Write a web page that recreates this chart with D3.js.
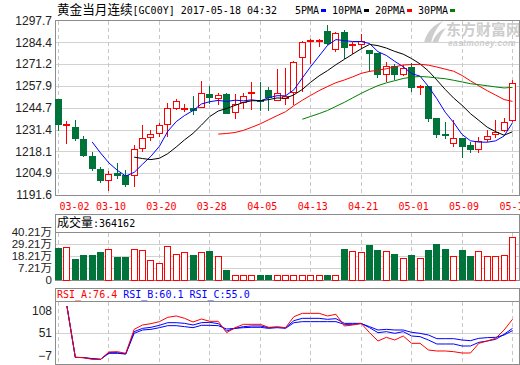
<!DOCTYPE html>
<html><head><meta charset="utf-8">
<script src="https://cdn.jsdelivr.net/npm/d3@7"></script>
<style>body{margin:0;background:#fff}svg{display:block}</style>
</head><body><svg id="c" width="520" height="365"></svg>
<script>
const dates = ["03-02","03-03","03-06","03-07","03-08","03-09","03-10","03-13","03-14","03-15","03-16","03-17","03-20","03-21","03-22","03-23","03-24","03-27","03-28","03-29","03-30","03-31","04-03","04-04","04-05","04-06","04-07","04-10","04-11","04-12","04-13","04-14","04-17","04-18","04-19","04-20","04-21","04-24","04-25","04-26","04-27","04-28","05-01","05-02","05-03","05-04","05-05","05-08","05-09","05-10","05-11","05-12","05-15","05-16","05-17"];
const open  = [1249.8,1234.3,1233.2,1225.5,1215.2,1207.4,1200.5,1204.9,1203.5,1203.5,1219.9,1226.6,1229.0,1234.5,1244.8,1244.3,1244.8,1245.4,1253.2,1250.6,1252.8,1242.1,1248.0,1253.5,1249.6,1255.7,1249.5,1250.5,1254.5,1275.3,1285.3,1285.3,1291.6,1280.5,1291.0,1282.8,1283.6,1279.5,1277.9,1265.4,1270.0,1265.4,1269.2,1257.2,1257.7,1238.5,1228.5,1223.5,1226.3,1221.9,1219.3,1225.4,1228.4,1231.0,1237.5];
const high  = [1250.2,1236.6,1237.1,1227.2,1217.9,1208.6,1206.3,1211.0,1207.1,1221.7,1234.0,1231.0,1235.4,1247.4,1250.0,1246.8,1251.6,1260.7,1258.1,1253.9,1253.4,1253.3,1253.5,1260.3,1260.1,1257.3,1268.5,1269.0,1272.9,1285.0,1286.6,1286.6,1294.7,1290.5,1292.1,1284.5,1289.6,1279.9,1278.2,1272.4,1271.4,1270.4,1271.8,1258.3,1258.0,1238.7,1235.8,1237.1,1226.5,1223.9,1226.9,1231.0,1237.1,1238.5,1261.3];
const low   = [1230.6,1222.7,1224.5,1214.5,1206.3,1198.9,1194.2,1201.1,1196.6,1196.6,1217.9,1224.2,1226.9,1226.6,1243.1,1242.1,1240.1,1244.8,1246.8,1246.6,1241.1,1238.1,1244.0,1243.1,1242.7,1242.7,1249.3,1246.2,1246.2,1254.2,1271.4,1281.5,1282.5,1278.5,1274.5,1277.5,1280.5,1266.4,1263.0,1260.3,1261.3,1263.9,1254.2,1252.2,1236.0,1226.0,1225.8,1220.9,1214.2,1217.2,1216.9,1223.9,1226.0,1230.0,1236.0];
const close = [1234.5,1234.7,1226.0,1216.0,1208.2,1200.9,1204.3,1203.7,1198.5,1219.3,1226.0,1228.4,1233.9,1244.2,1248.6,1244.7,1243.3,1253.9,1251.2,1252.4,1241.5,1247.2,1252.0,1254.2,1249.0,1251.2,1253.5,1251.5,1272.7,1284.8,1285.8,1285.8,1283.9,1290.2,1281.5,1283.3,1285.4,1278.1,1265.4,1270.0,1265.4,1269.0,1257.3,1257.6,1238.5,1228.4,1227.8,1226.0,1221.3,1219.3,1224.5,1227.4,1230.2,1236.0,1259.7];
// volume in 万 (10,000 lots)
const volume = [27.2,27.8,18.0,21.1,21.1,23.6,26.1,19.1,19.7,26.1,25.0,16.9,14.3,28.7,21.9,23.6,21.1,23.6,24.5,20.2,8.4,4.0,4.0,4.0,4.0,4.0,4.0,4.0,4.0,4.0,4.0,4.0,4.0,4.0,26.1,24.2,23.3,29.5,25.3,24.2,21.9,18.5,21.1,18.5,25.3,30.4,26.1,20.2,25.3,20.2,24.2,20.2,20.2,21.1,36.4162];
const rsiA = [null,119.9,-10.4,-11.2,-15.5,-15.5,3.2,4.0,-0.2,60.7,71.7,75.1,80.2,91.2,94.6,88.6,79.3,86.9,81.0,81.0,52.2,64.9,73.4,73.4,73.4,65.8,66.6,64.9,92.9,101.3,101.3,101.3,94.6,98.8,69.2,71.7,75.9,52.2,31.1,40.4,33.6,43.8,25.2,25.2,8.2,5.7,5.7,4.0,0.6,0.6,25.2,31.1,37.9,59.0,86.1];
const rsiB = [null,119.9,-10.4,-11.2,-13.8,-15.5,1.5,1.5,-1.9,54.8,63.2,65.8,70.9,77.6,77.6,75.9,71.7,77.6,78.5,75.1,56.5,63.2,67.5,69.2,69.2,64.9,66.6,64.9,82.7,88.6,88.6,88.6,86.1,87.8,75.9,75.9,75.9,64.9,52.2,54.8,50.5,54.8,43.8,42.1,33.6,23.5,23.5,23.5,18.4,18.4,27.7,31.1,35.3,48.0,63.2];
const rsiC = [null,119.9,-10.4,-11.2,-13.8,-15.5,-0.2,-0.2,-1.9,50.5,59.0,60.7,64.9,70.0,70.0,67.5,64.9,70.9,70.9,70.0,61.5,63.2,64.9,65.8,65.8,63.2,64.9,63.2,77.6,80.2,80.2,80.2,80.2,80.2,73.4,73.4,75.1,67.5,59.0,60.7,59.0,59.0,53.1,50.5,46.3,37.0,37.0,37.0,33.6,31.9,37.9,39.6,40.4,46.3,57.3];
const rsiLast = ["76.4","60.1","55.0"];
const priceTicks = [1191.6,1204.9,1218.1,1231.4,1244.7,1257.9,1271.2,1284.4,1297.7];
const volMax = 40.21;
const volTickLabels = ["0","7.21万","18.21万","29.21万","40.21万"];
const rsiTicks = [-7,51,108];
const maPeriods = [5,10,20,30];
const maColors = ["#0000ff","#000000","#ff0000","#008000"];
const titleCN = "黄金当月连续", titleEN = "[GC00Y] 2017-05-18 04:32";

const RED = "#ff0000", GREEN = "#00733a", GRID = "#d2d2d2", BORDER = "#8c8c8c";
const CJK = "'Noto Sans CJK SC', sans-serif", MONO = "'DejaVu Sans Mono', monospace", SANS = "'Liberation Sans', 'Noto Sans CJK SC', sans-serif";
const L = 55.5, R = 519.5;
const svg = d3.select("#c");

const x = d3.scalePoint().domain(dates).range([58, 512]);
const y = d3.scaleLinear().domain([priceTicks[0], priceTicks[priceTicks.length-1]]).range([195, 20.5]);
const yv = d3.scaleLinear().domain([0, volMax]).range([280, 232.3]);
const yr = d3.scaleLinear().domain([-7, 108]).range([356, 310.7]);
const px = v => Math.round(v) + 0.5;
const tickDates = dates.filter((d, i) => i % 6 === 0);
// volume grid: evenly spaced quarters of the axis, labelled as in the source chart
const volTickVals = volTickLabels.map((s, i) => volMax * i / (volTickLabels.length - 1));

// ---- watermark
const wm = svg.append("g").attr("fill", "#cdcdcd");
wm.append("path").attr("d", "M424,43 C426,33 433,25 443,21 C437,27 433,34 431,43 Z M432,43 C435,35 440,30 446,28 C442,33 439,38 438,43 Z");
wm.append("text").attr("x", 446).attr("y", 35).attr("font-family", CJK).attr("font-weight", "bold").attr("font-size", 15).text("东方财富网");
wm.append("text").attr("x", 448).attr("y", 45.5).attr("font-family", SANS).attr("font-style", "italic").attr("font-weight", "bold").attr("font-size", 8.5).attr("letter-spacing", 0.3).text("eastmoney.com");

// ---- gridlines
const grid = svg.append("g").attr("stroke", GRID).attr("fill", "none").attr("shape-rendering", "crispEdges");
priceTicks.slice(1, -1).forEach(t => grid.append("line").attr("x1", L).attr("x2", R).attr("y1", px(y(t))).attr("y2", px(y(t))));
volTickVals.slice(1, -1).forEach(t => grid.append("line").attr("x1", L).attr("x2", R).attr("y1", px(yv(t))).attr("y2", px(yv(t))));
grid.append("line").attr("x1", L).attr("x2", R).attr("y1", px(yr(51))).attr("y2", px(yr(51)));
tickDates.forEach(d => {
  const xx = px(x(d));
  [[20.5, 195], [232.5, 280], [301.5, 364]].forEach(([a, b]) =>
    grid.append("line").attr("x1", xx).attr("x2", xx).attr("y1", a).attr("y2", b).attr("stroke-dasharray", "4,3").attr("stroke", "#c8c8c8"));
});

// ---- borders
const bd = svg.append("g").attr("stroke", BORDER).attr("fill", "none").attr("shape-rendering", "crispEdges");
bd.append("rect").attr("x", L).attr("y", 20.5).attr("width", R - L).attr("height", 174.5);
bd.append("rect").attr("x", L).attr("y", 214.5).attr("width", R - L).attr("height", 66);
bd.append("line").attr("x1", L).attr("x2", R).attr("y1", 232.5).attr("y2", 232.5);
bd.append("rect").attr("x", L).attr("y", 288.5).attr("width", R - L).attr("height", 76);
bd.append("line").attr("x1", L).attr("x2", R).attr("y1", 301.5).attr("y2", 301.5);

// ---- candles
const cg = svg.append("g").attr("shape-rendering", "crispEdges");
dates.forEach((d, i) => {
  const up = close[i] >= open[i];
  const col = up ? RED : GREEN;
  const xc = Math.round(x(d));
  cg.append("line").attr("x1", xc + 0.5).attr("x2", xc + 0.5).attr("y1", y(high[i])).attr("y2", y(low[i])).attr("stroke", col);
  const top = Math.round(y(Math.max(open[i], close[i])));
  const bot = Math.round(y(Math.min(open[i], close[i])));
  const h = Math.max(1, bot - top);
  if (up) {
    cg.append("rect").attr("x", xc - 2.5).attr("y", top + 0.5).attr("width", 6).attr("height", h).attr("fill", "#fff").attr("stroke", col);
  } else {
    cg.append("rect").attr("x", xc - 3).attr("y", top).attr("width", 7).attr("height", h + 1).attr("fill", col);
  }
});

// ---- moving averages
maPeriods.forEach((p, k) => {
  const ma = close.map((c, i) => i < p - 1 ? null : d3.mean(close.slice(i - p + 1, i + 1)));
  svg.append("path").datum(ma).attr("fill", "none").attr("stroke", maColors[k]).attr("stroke-width", 1)
    .attr("d", d3.line().defined(v => v != null).x((v, i) => x(dates[i]) + 0.5).y(v => y(v)));
});

// ---- volume bars
const vg = svg.append("g").attr("shape-rendering", "crispEdges");
dates.forEach((d, i) => {
  const up = close[i] >= open[i];
  const xc = Math.round(x(d));
  const top = Math.round(yv(volume[i]));
  if (up) vg.append("rect").attr("x", xc - 2.5).attr("y", top + 0.5).attr("width", 6).attr("height", 280 - top - 0.5).attr("fill", "#fff").attr("stroke", RED);
  else vg.append("rect").attr("x", xc - 3).attr("y", top).attr("width", 7).attr("height", 280 - top).attr("fill", GREEN);
});

// ---- RSI
svg.append("clipPath").attr("id", "rc").append("rect").attr("x", 56).attr("y", 302).attr("width", 463).attr("height", 62);
[[rsiC, "#0000ff"], [rsiB, "#0000ff"], [rsiA, RED]].forEach(([arr, col]) => {
  svg.append("path").datum(arr).attr("clip-path", "url(#rc)").attr("fill", "none").attr("stroke", col).attr("stroke-width", 1)
    .attr("d", d3.line().defined(v => v != null).x((v, i) => x(dates[i]) + 0.5).y(v => yr(v)));
});

// ---- axes
function styleAxis(size) {
  return g => {
    g.select(".domain").remove();
    g.selectAll("line").remove();
    g.selectAll("text").attr("font-family", SANS).attr("font-size", size).attr("fill", "#222");
  };
}
svg.append("g").attr("transform", "translate(55,0)")
  .call(d3.axisLeft(y).tickValues(priceTicks).tickSize(0).tickPadding(3).tickFormat(d3.format(".1f")))
  .call(styleAxis(12));
svg.append("g").attr("transform", "translate(55,0)")
  .call(d3.axisLeft(yv).tickValues(volTickVals).tickSize(0).tickPadding(3).tickFormat((d, i) => volTickLabels[i]))
  .call(styleAxis(11.5));
svg.append("g").attr("transform", "translate(55,0)")
  .call(d3.axisLeft(yr).tickValues(rsiTicks).tickSize(0).tickPadding(3))
  .call(styleAxis(12));
const xa = svg.append("g").attr("transform", "translate(0,195)")
  .call(d3.axisBottom(x).tickValues(tickDates).tickSize(0));
xa.select(".domain").remove();
xa.selectAll("text").attr("font-family", MONO).attr("font-size", 10).attr("fill", RED).attr("y", 14.5).attr("dy", 0).attr("x", 2);
xa.selectAll("text").each(function(d) {
  const w = this.getComputedTextLength();
  if (x(d) + 2 - w / 2 < 59) d3.select(this).attr("x", 59 + w / 2 - x(d));
});

// ---- titles
const t = svg.append("text").attr("x", 57).attr("y", 13.5).attr("fill", "#000");
t.append("tspan").attr("font-family", CJK).attr("font-size", 12.6).text(titleCN);
t.append("tspan").attr("font-family", MONO).attr("font-size", 10).text(titleEN);
const legX = [295, 332, 375, 418], sqX = [321, 364, 407, 450];
maPeriods.forEach((p, k) => {
  svg.append("text").attr("x", legX[k]).attr("y", 13.5).attr("font-family", MONO).attr("font-size", 10).attr("fill", "#000").text(p + "PMA");
  svg.append("rect").attr("x", sqX[k]).attr("y", 9).attr("width", 5).attr("height", 3).attr("fill", maColors[k]);
});
const vt = svg.append("text").attr("x", 57).attr("y", 227);
vt.append("tspan").attr("font-family", CJK).attr("font-size", 12).text("成交量");
vt.append("tspan").attr("font-family", MONO).attr("font-size", 10).text(":" + Math.round(volume[volume.length - 1] * 10000));
const rt = svg.append("text").attr("x", 57).attr("y", 298).attr("font-family", MONO).attr("font-size", 10);
rt.append("tspan").attr("fill", RED).text("RSI_A:" + rsiLast[0]);
rt.append("tspan").attr("fill", "#0000ff").text(" RSI_B:" + rsiLast[1] + " RSI_C:" + rsiLast[2]);
</script></body></html>
